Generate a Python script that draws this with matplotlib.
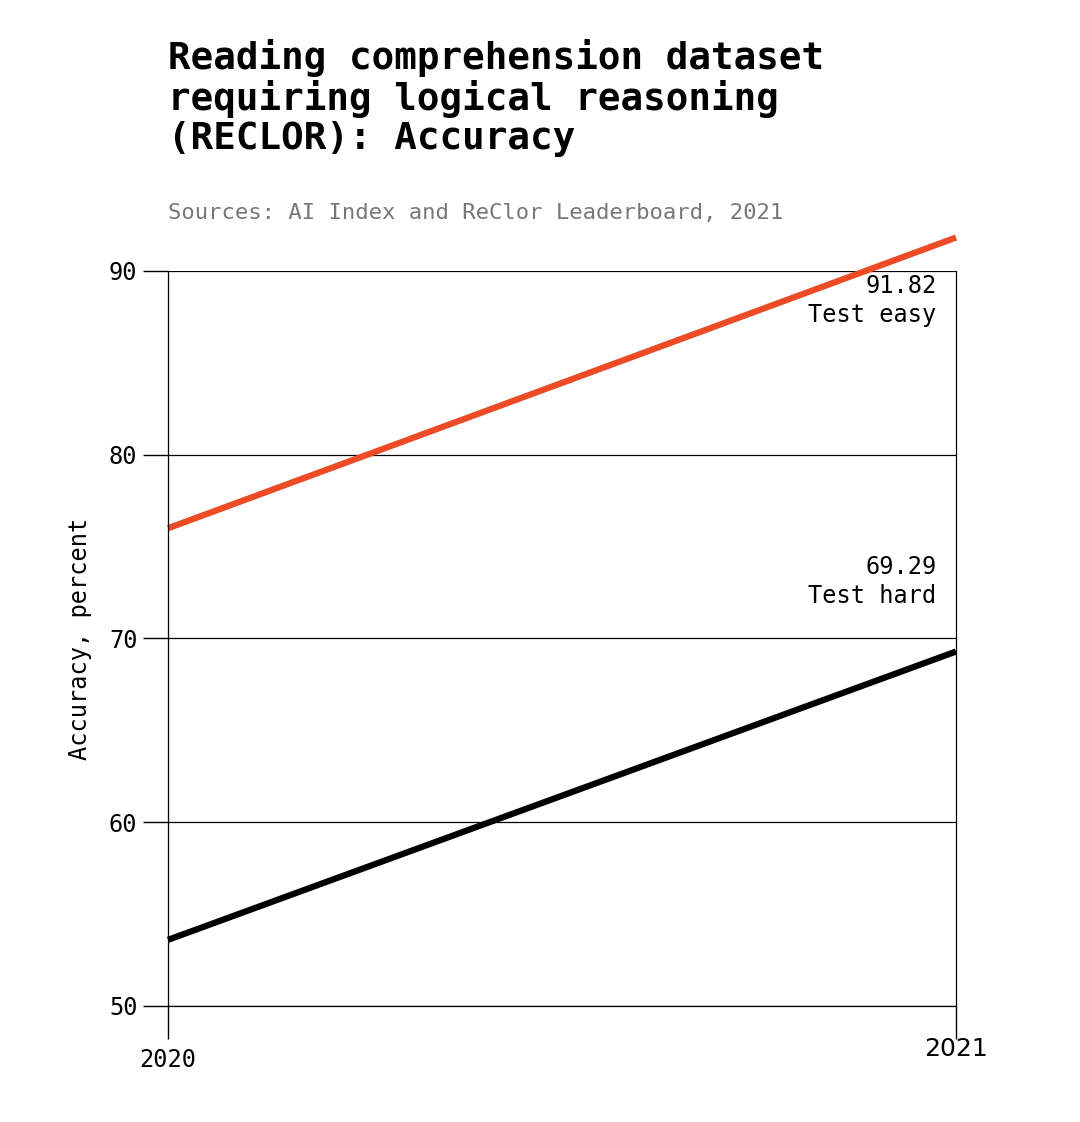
import matplotlib.pyplot as plt

years = [2020, 2021]
test_easy = [76.0, 91.82]
test_hard = [53.6, 69.29]
y_ticks = [50, 60, 70, 80, 90]

mono = 'DejaVu Sans Mono'

fig = plt.figure(figsize=(10.8, 11.22), dpi=100)
fig.patch.set_facecolor('white')
ax = fig.add_axes([0.1556, 0.1034, 0.7296, 0.6551])

ax.plot(years, test_easy, color='#ec4b26', linewidth=4.5, clip_on=False, solid_capstyle='butt')
ax.plot(years, test_hard, color='black', linewidth=4.5, clip_on=False, solid_capstyle='butt')

ax.set_xlim(2020, 2021)
ax.set_ylim(50, 90)
ax.set_yticks(y_ticks)
ax.set_xticks(years)
ax.set_yticklabels([str(v) for v in y_ticks], fontfamily=mono, fontsize=17)
ax.set_xticklabels(['2020', ''], fontfamily=mono, fontsize=17)
ax.text(2021, 50 - 2.35, '2021', ha='center', va='center', fontsize=18,
        fontfamily='DejaVu Sans')
ax.tick_params(axis='y', length=18, width=1, pad=4)
ax.tick_params(axis='x', length=24, width=1, pad=6)
ax.grid(axis='y', color='black', linewidth=0.9)
ax.spines['top'].set_visible(False)
for s in ['left', 'right', 'bottom']:
    ax.spines[s].set_linewidth(0.9)

ax.text(2020.975, 88.4, '91.82\nTest easy', ha='right', va='center',
        fontfamily=mono, fontsize=17, linespacing=1.3)
ax.text(2020.975, 73.1, '69.29\nTest hard', ha='right', va='center',
        fontfamily=mono, fontsize=17, linespacing=1.3)

ax.set_ylabel('Accuracy, percent', fontfamily=mono, fontsize=17, labelpad=12)

fig.text(0.156, 0.965, 'Reading comprehension dataset\nrequiring logical reasoning\n(RECLOR): Accuracy',
         ha='left', va='top', fontfamily=mono, fontweight='bold', fontsize=27, linespacing=1.1)
fig.text(0.156, 0.81, 'Sources: AI Index and ReClor Leaderboard, 2021',
         ha='left', va='center', fontfamily=mono, fontsize=16, color='#777777')

fig.savefig('out.png', dpi=100, facecolor='white')
